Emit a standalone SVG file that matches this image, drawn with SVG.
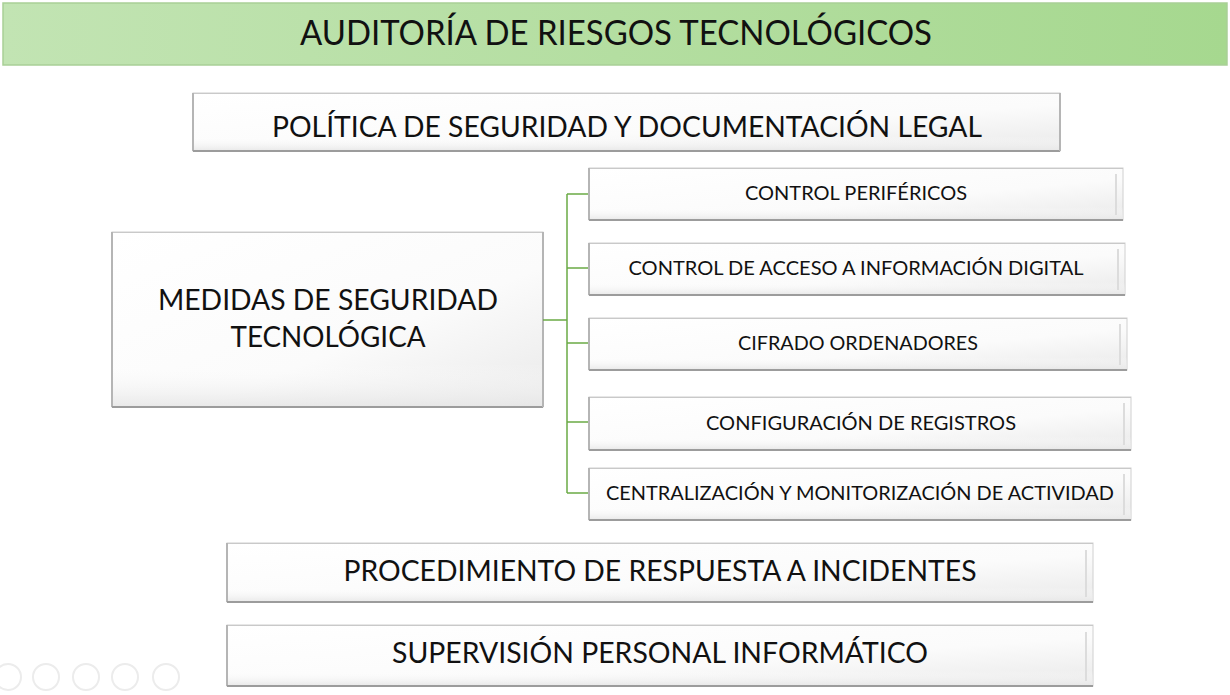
<svg xmlns="http://www.w3.org/2000/svg" width="1230" height="695" viewBox="0 0 1230 695">
<defs>
  <linearGradient id="title" x1="0" y1="0" x2="1" y2="0">
    <stop offset="0" stop-color="#c2e4b3"/>
    <stop offset="1" stop-color="#a6d88f"/>
  </linearGradient>
  <linearGradient id="box" x1="0" y1="0" x2="1" y2="1">
    <stop offset="0" stop-color="#ffffff"/>
    <stop offset="0.6" stop-color="#fbfbfb"/>
    <stop offset="1" stop-color="#e9e9e9"/>
  </linearGradient>
  <linearGradient id="boxv" x1="0" y1="0" x2="0" y2="1">
    <stop offset="0" stop-color="#ffffff" stop-opacity="0"/>
    <stop offset="0.75" stop-color="#ffffff" stop-opacity="0"/>
    <stop offset="1" stop-color="#e6e6e6" stop-opacity="0.9"/>
  </linearGradient>
</defs>
<style>
  .bx { fill: url(#box); stroke: #d0d0d0; stroke-width: 1; }
  .bv { fill: url(#boxv); stroke: none; }
  .edgeL { stroke: #b5b5b5; stroke-width: 2; }
  .edgeI { stroke: #dcdcdc; stroke-width: 2; }
  .edgeB { stroke: #9c9c9c; stroke-width: 2; }
  .edgeT { stroke: #c9c9c9; stroke-width: 1; }
  .t { font-family: Lato, "Open Sans", "Liberation Sans", sans-serif; fill: #111; text-anchor: middle; }
  .conn { stroke: #6aaa45; stroke-width: 1.5; fill: none; }
  .icon { fill: none; stroke: #ececec; stroke-width: 2; }
</style>

<g id="title-bar">
  <rect x="3" y="3" width="1224" height="62" fill="url(#title)" stroke="#a9cf97" stroke-width="1.5"/>
  <text class="t" x="616" y="45" font-size="34" textLength="632" lengthAdjust="spacingAndGlyphs">AUDITORÍA DE RIESGOS TECNOLÓGICOS</text>
</g>

<g id="node-politica">
  <rect class="bx" x="193" y="93" width="867" height="58"/>
  <rect class="bv" x="193" y="93" width="867" height="58"/>
  <line class="edgeT" x1="193" y1="93.5" x2="1060" y2="93.5"/>
  <line class="edgeL" x1="193" y1="93" x2="193" y2="151"/>
  <line class="edgeB" x1="193" y1="151" x2="1060" y2="151"/>
  <line class="edgeL" x1="1060" y1="93" x2="1060" y2="151"/>
  <text class="t" x="627" y="137" font-size="28" textLength="710" lengthAdjust="spacingAndGlyphs">POLÍTICA DE SEGURIDAD Y DOCUMENTACIÓN LEGAL</text>
</g>

<g id="node-medidas">
  <rect class="bx" x="112" y="232" width="431" height="175"/>
  <rect class="bv" x="112" y="232" width="431" height="175"/>
  <line class="edgeT" x1="112" y1="232.5" x2="543" y2="232.5"/>
  <line class="edgeL" x1="112" y1="232" x2="112" y2="407"/>
  <line class="edgeB" x1="112" y1="407" x2="543" y2="407"/>
  <line class="edgeL" x1="543" y1="232" x2="543" y2="407"/>
  <text class="t" x="328" y="310" font-size="28" textLength="340" lengthAdjust="spacingAndGlyphs">MEDIDAS DE SEGURIDAD</text>
  <text class="t" x="328" y="347" font-size="28" textLength="195" lengthAdjust="spacingAndGlyphs">TECNOLÓGICA</text>
</g>

<g id="connectors">
  <line class="conn" x1="543" y1="320" x2="567" y2="320" stroke-width="2.5"/>
  <line class="conn" x1="567" y1="194" x2="567" y2="493"/>
  <line class="conn" x1="567" y1="194" x2="590" y2="194"/>
  <line class="conn" x1="567" y1="268" x2="590" y2="268"/>
  <line class="conn" x1="567" y1="343" x2="590" y2="343"/>
  <line class="conn" x1="567" y1="422" x2="590" y2="422"/>
  <line class="conn" x1="567" y1="493" x2="590" y2="493"/>
</g>

<g id="node-perifericos">
  <rect class="bx" x="589" y="168" width="534" height="52"/>
  <rect class="bv" x="589" y="168" width="534" height="52"/>
  <line class="edgeT" x1="589" y1="168.5" x2="1123" y2="168.5"/>
  <line class="edgeL" x1="589" y1="168" x2="589" y2="220"/>
  <line class="edgeB" x1="589" y1="220" x2="1123" y2="220"/>
  <line class="edgeI" x1="1116" y1="174" x2="1116" y2="215"/>
  <text class="t" x="856" y="200" font-size="20" textLength="222" lengthAdjust="spacingAndGlyphs">CONTROL PERIFÉRICOS</text>
</g>

<g id="node-acceso">
  <rect class="bx" x="589" y="243" width="536" height="52"/>
  <rect class="bv" x="589" y="243" width="536" height="52"/>
  <line class="edgeT" x1="589" y1="243.5" x2="1125" y2="243.5"/>
  <line class="edgeL" x1="589" y1="243" x2="589" y2="295"/>
  <line class="edgeB" x1="589" y1="295" x2="1125" y2="295"/>
  <line class="edgeI" x1="1118" y1="249" x2="1118" y2="290"/>
  <text class="t" x="856" y="275" font-size="20" textLength="455" lengthAdjust="spacingAndGlyphs">CONTROL DE ACCESO A INFORMACIÓN DIGITAL</text>
</g>

<g id="node-cifrado">
  <rect class="bx" x="589" y="318" width="538" height="52"/>
  <rect class="bv" x="589" y="318" width="538" height="52"/>
  <line class="edgeT" x1="589" y1="318.5" x2="1127" y2="318.5"/>
  <line class="edgeL" x1="589" y1="318" x2="589" y2="370"/>
  <line class="edgeB" x1="589" y1="370" x2="1127" y2="370"/>
  <line class="edgeI" x1="1120" y1="324" x2="1120" y2="365"/>
  <text class="t" x="858" y="350" font-size="20" textLength="240" lengthAdjust="spacingAndGlyphs">CIFRADO ORDENADORES</text>
</g>

<g id="node-configuracion">
  <rect class="bx" x="589" y="397" width="542" height="53"/>
  <rect class="bv" x="589" y="397" width="542" height="53"/>
  <line class="edgeT" x1="589" y1="397.5" x2="1131" y2="397.5"/>
  <line class="edgeL" x1="589" y1="397" x2="589" y2="450"/>
  <line class="edgeB" x1="589" y1="450" x2="1131" y2="450"/>
  <line class="edgeI" x1="1124" y1="403" x2="1124" y2="445"/>
  <text class="t" x="861" y="430" font-size="20" textLength="310" lengthAdjust="spacingAndGlyphs">CONFIGURACIÓN DE REGISTROS</text>
</g>

<g id="node-centralizacion">
  <rect class="bx" x="589" y="468" width="542" height="52"/>
  <rect class="bv" x="589" y="468" width="542" height="52"/>
  <line class="edgeT" x1="589" y1="468.5" x2="1131" y2="468.5"/>
  <line class="edgeL" x1="589" y1="468" x2="589" y2="520"/>
  <line class="edgeB" x1="589" y1="520" x2="1131" y2="520"/>
  <line class="edgeI" x1="1124" y1="474" x2="1124" y2="515"/>
  <text class="t" x="860" y="500" font-size="20" textLength="508" lengthAdjust="spacingAndGlyphs">CENTRALIZACIÓN Y MONITORIZACIÓN DE ACTIVIDAD</text>
</g>

<g id="node-procedimiento">
  <rect class="bx" x="227" y="543" width="866" height="59"/>
  <rect class="bv" x="227" y="543" width="866" height="59"/>
  <line class="edgeT" x1="227" y1="543.5" x2="1093" y2="543.5"/>
  <line class="edgeL" x1="227" y1="543" x2="227" y2="602"/>
  <line class="edgeB" x1="227" y1="602" x2="1093" y2="602"/>
  <line class="edgeI" x1="1086" y1="550" x2="1086" y2="597"/>
  <text class="t" x="660" y="581" font-size="28" textLength="633" lengthAdjust="spacingAndGlyphs">PROCEDIMIENTO DE RESPUESTA A INCIDENTES</text>
</g>

<g id="node-supervision">
  <rect class="bx" x="227" y="625" width="866" height="61"/>
  <rect class="bv" x="227" y="625" width="866" height="61"/>
  <line class="edgeT" x1="227" y1="625.5" x2="1093" y2="625.5"/>
  <line class="edgeL" x1="227" y1="625" x2="227" y2="686"/>
  <line class="edgeB" x1="227" y1="686" x2="1093" y2="686"/>
  <line class="edgeI" x1="1086" y1="632" x2="1086" y2="681"/>
  <text class="t" x="660" y="663" font-size="28" textLength="536" lengthAdjust="spacingAndGlyphs">SUPERVISIÓN PERSONAL INFORMÁTICO</text>
</g>

<g id="player-controls">
  <circle class="icon" cx="8" cy="677" r="13"/>
  <circle class="icon" cx="46" cy="677" r="13"/>
  <circle class="icon" cx="86" cy="677" r="13"/>
  <circle class="icon" cx="125" cy="677" r="13"/>
  <circle class="icon" cx="166" cy="677" r="13"/>
</g>
</svg>
